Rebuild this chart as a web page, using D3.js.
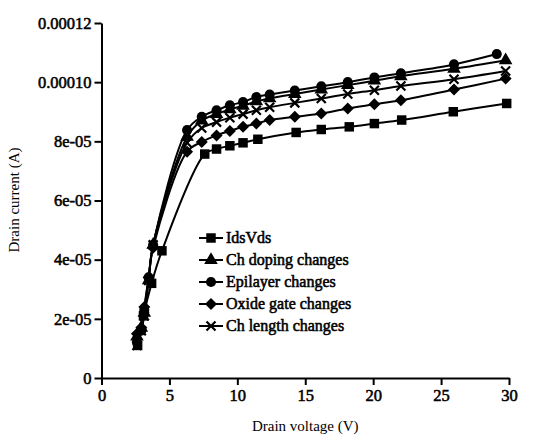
<!DOCTYPE html>
<html>
<head>
<meta charset="utf-8">
<script src="https://cdn.jsdelivr.net/npm/d3@7"></script>
<style>
  body { margin: 0; background: #fff; }
</style>
</head>
<body>
<div id="chart"></div>
<script>
// Data (current in units of 1e-5 A)
const idsV = [2.66, 3.09, 3.69, 4.45, 7.6, 8.47, 9.45, 10.42, 11.51, 14.33, 16.18, 18.24, 20.09, 22.1, 25.9, 29.83];
const idsI = [1.1, 2.1, 3.2, 4.3, 7.57, 7.74, 7.85, 7.95, 8.07, 8.3, 8.4, 8.49, 8.6, 8.72, 9.0, 9.28];

const chV = [2.61, 2.93, 3.15, 3.47, 3.8, 6.3, 7.38, 8.47, 9.45, 10.42, 11.4, 12.38, 14.23, 16.18, 18.13, 20.09, 22.04, 25.95, 29.75];
const epiV = [2.61, 2.93, 3.15, 3.47, 3.8, 6.3, 7.38, 8.47, 9.45, 10.42, 11.4, 12.38, 14.23, 16.18, 18.13, 20.09, 22.04, 25.95, 29.1];

const dopingI = [1.4, 1.7, 2.2, 3.3, 4.5, 8.15, 8.7, 8.92, 9.08, 9.2, 9.35, 9.45, 9.6, 9.75, 9.9, 10.05, 10.2, 10.45, 10.74];
const epiI = [1.2, 1.6, 2.3, 3.4, 4.5, 8.38, 8.83, 9.05, 9.22, 9.33, 9.5, 9.58, 9.72, 9.86, 10.0, 10.16, 10.3, 10.6, 10.95];
const oxideI = [1.5, 1.7, 2.4, 3.4, 4.4, 7.65, 7.98, 8.2, 8.35, 8.49, 8.6, 8.72, 8.83, 8.94, 9.11, 9.25, 9.39, 9.75, 10.12];
const lengthI = [1.1, 1.6, 2.1, 3.3, 4.5, 7.95, 8.45, 8.65, 8.8, 8.92, 9.05, 9.15, 9.3, 9.45, 9.6, 9.73, 9.87, 10.1, 10.38];

const seriesNames = ["IdsVds", "Ch doping changes", "Epilayer changes", "Oxide gate changes", "Ch length changes"];
const seriesShapes = ["square", "triangle", "circle", "diamond", "x"];

const xTicks = [0, 5, 10, 15, 20, 25, 30];
const yTicks = [0, 2e-5, 4e-5, 6e-5, 8e-5, 10e-5, 12e-5];
const yTickLabels = ["0", "2e-05", "4e-05", "6e-05", "8e-05", "0.00010", "0.00012"];

const width = 558;
const height = 438;
const margin = {t: 23, b: 60, l: 101.5, r: 49};
const font = "'Liberation Serif', 'Times New Roman', Times, serif";

const svg = d3.select("#chart")
    .append("svg")
    .attr("width", width)
    .attr("height", height)
    .attr("viewBox", [0, 0, width, height]);

const xScale = d3.scaleLinear().domain([0, 30]).range([margin.l, width - margin.r]);
const yScale = d3.scaleLinear().domain([0, 12e-5]).range([height - margin.b, margin.t]);

const series = [
    {v: idsV, i: idsI},
    {v: chV, i: dopingI},
    {v: epiV, i: epiI},
    {v: chV, i: oxideI},
    {v: chV, i: lengthI}
].map((s, k) => ({
    name: seriesNames[k],
    shape: seriesShapes[k],
    points: s.v.map((v, j) => [v, s.i[j] * 1e-5])
}));

// marker paths centred on 0,0
function markerPath(shape) {
    if (shape === "square") return d3.symbol(d3.symbolSquare, 90)();
    if (shape === "triangle") return d3.symbol(d3.symbolTriangle, 80)();
    if (shape === "circle") return d3.symbol(d3.symbolCircle, 80)();
    if (shape === "diamond") return "M0,-6L6,0L0,6L-6,0Z";
    return "M-4.5,-4.5L4.5,4.5M-4.5,4.5L4.5,-4.5";
}

function drawMarker(g, shape, x, y) {
    const p = g.append("path")
        .attr("d", markerPath(shape))
        .attr("transform", `translate(${x},${y})`);
    if (shape === "x") {
        p.attr("fill", "none").attr("stroke", "#000").attr("stroke-width", 2.2);
    } else {
        p.attr("fill", "#000");
    }
}

// serif text thickened a little, like the scanned original
function heavy(sel) {
    sel.attr("fill", "#000").attr("stroke", "#000").attr("stroke-width", 0.55);
}

const line = d3.line()
    .x(d => xScale(d[0]))
    .y(d => yScale(d[1]))
    .curve(d3.curveCatmullRom.alpha(0.5));

// lines
series.forEach(s => {
    svg.append("path")
        .attr("d", line(s.points))
        .attr("fill", "none")
        .attr("stroke", "#000")
        .attr("stroke-width", 2);
});

// markers
series.forEach(s => {
    const g = svg.append("g");
    s.points.forEach(d => drawMarker(g, s.shape, xScale(d[0]), yScale(d[1])));
});

// Y axis
svg.append("g")
    .attr("transform", `translate(${margin.l}, 0)`)
    .call(d3.axisLeft(yScale).tickValues(yTicks).tickFormat((d, i) => yTickLabels[i]).tickSize(7).tickSizeOuter(0).tickPadding(3))
    .style("font-family", font)
    .style("font-size", "16.5px")
    .call(g => g.selectAll("line, path").attr("stroke", "#000").attr("stroke-width", 2))
    .call(g => g.selectAll("text").call(heavy));

// X axis
svg.append("g")
    .attr("transform", `translate(0, ${height - margin.b})`)
    .call(d3.axisBottom(xScale).tickValues(xTicks).tickFormat(d3.format("d")).tickSize(7).tickSizeOuter(0).tickPadding(4))
    .style("font-family", font)
    .style("font-size", "16.5px")
    .call(g => g.selectAll("line, path").attr("stroke", "#000").attr("stroke-width", 2))
    .call(g => g.selectAll("text").call(heavy));

// axis titles
svg.append("text")
    .attr("x", (margin.l + width - margin.r) / 2)
    .attr("y", height - 7)
    .attr("text-anchor", "middle")
    .style("font-family", font)
    .style("font-size", "15px")
    .text("Drain voltage (V)");

svg.append("text")
    .attr("transform", `translate(19, 200) rotate(-90)`)
    .attr("text-anchor", "middle")
    .style("font-family", font)
    .style("font-size", "15px")
    .text("Drain current (A)");

// legend
const legendX = 199;
const legendY = 238;
const legendStep = 22;
series.forEach((s, k) => {
    const y = legendY + k * legendStep;
    const g = svg.append("g");
    g.append("line")
        .attr("x1", legendX).attr("x2", legendX + 24)
        .attr("y1", y).attr("y2", y)
        .attr("stroke", "#000").attr("stroke-width", 2);
    drawMarker(g, s.shape, legendX + 12, y);
    g.append("text")
        .attr("x", legendX + 27)
        .attr("y", y + 5)
        .style("font-family", font)
        .style("font-size", "16px")
        .text(s.name)
        .call(heavy);
});
</script>
</body>
</html>
